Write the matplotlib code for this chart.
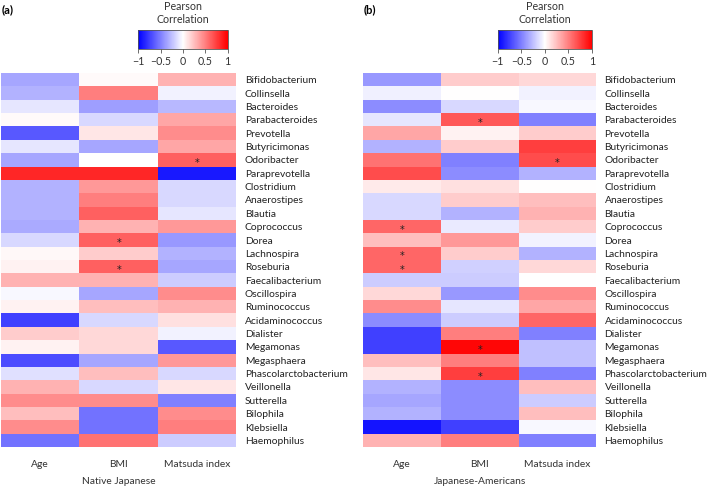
import numpy as np
import matplotlib
matplotlib.use('Agg')
import matplotlib.pyplot as plt

plt.rcParams['font.family'] = ['Lato', 'DejaVu Sans']

genera = ['Bifidobacterium', 'Collinsella', 'Bacteroides', 'Parabacteroides',
          'Prevotella', 'Butyricimonas', 'Odoribacter', 'Paraprevotella',
          'Clostridium', 'Anaerostipes', 'Blautia', 'Coprococcus', 'Dorea',
          'Lachnospira', 'Roseburia', 'Faecalibacterium', 'Oscillospira',
          'Ruminococcus', 'Acidaminococcus', 'Dialister', 'Megamonas',
          'Megasphaera', 'Phascolarctobacterium', 'Veillonella', 'Sutterella',
          'Bilophila', 'Klebsiella', 'Haemophilus']
variables = ['Age', 'BMI', 'Matsuda index']

# (a) Native Japanese
nj_age = [-0.35, -0.3, -0.1, 0.02, -0.65, -0.1, -0.35, 0.85, -0.3, -0.3, -0.3, -0.33,
          -0.15, 0.03, 0.05, 0.3, -0.03, 0.05, -0.75, 0.2, 0.05, -0.7, -0.12, 0.3,
          0.45, 0.25, 0.45, -0.55]
nj_bmi = [0.02, 0.5, -0.38, -0.15, 0.1, -0.35, 0.0, 0.85, 0.4, 0.5, 0.62, 0.3,
          0.62, 0.2, 0.62, 0.3, -0.35, 0.25, -0.15, 0.15, 0.15, -0.35, 0.25, -0.15,
          0.45, -0.55, -0.55, 0.55]
nj_matsuda = [0.3, -0.05, -0.28, 0.35, 0.45, 0.35, 0.62, -0.9, -0.15, -0.15, -0.1, 0.4,
              -0.4, -0.3, -0.35, -0.2, 0.45, 0.3, 0.12, -0.05, -0.65, 0.4, -0.15, 0.1,
              -0.5, 0.45, 0.5, -0.2]
nj_sig = [(6, 2), (12, 1), (14, 1)]

# (b) Japanese-Americans
ja_age = [-0.4, -0.06, -0.45, -0.1, 0.35, -0.3, 0.55, 0.7, 0.08, -0.15, -0.15, 0.6,
          0.25, 0.6, 0.6, -0.2, 0.15, 0.45, -0.45, -0.75, -0.75, 0.25, 0.1, -0.3,
          -0.35, -0.3, -0.92, 0.3]
ja_bmi = [0.2, 0.0, -0.15, 0.65, 0.05, 0.2, -0.5, -0.45, 0.12, 0.2, -0.3, -0.08,
          0.4, 0.2, -0.18, -0.2, -0.4, -0.1, -0.2, 0.5, 0.97, 0.5, 0.75, -0.45,
          -0.45, -0.45, -0.75, 0.5]
ja_matsuda = [0.15, -0.05, -0.03, -0.5, 0.2, 0.75, 0.7, -0.3, 0.0, 0.25, 0.3, 0.2,
              -0.05, -0.3, 0.15, 0.0, 0.45, 0.35, 0.6, -0.5, -0.25, -0.25, -0.5, 0.25,
              -0.2, 0.25, -0.03, -0.5]
ja_sig = [(3, 1), (6, 2), (11, 0), (13, 0), (14, 0), (20, 1), (22, 1)]

fig = plt.figure(figsize=(7.09, 4.87), dpi=100)
cmap = plt.get_cmap('bwr')
fs = 7.4

panels = [
    ('(a)', 'Native Japanese', [nj_age, nj_bmi, nj_matsuda], nj_sig,
     [0.0014, 0.082, 0.332, 0.768], [0.195, 0.899, 0.126, 0.039]),
    ('(b)', 'Japanese-Americans', [ja_age, ja_bmi, ja_matsuda], ja_sig,
     [0.512, 0.082, 0.329, 0.768], [0.702, 0.899, 0.133, 0.039]),
]

for tag, group, cols, sig, hm_pos, cb_pos in panels:
    data = np.array(cols).T
    ax = fig.add_axes(hm_pos)
    mesh = ax.pcolormesh(data, cmap=cmap, vmin=-1, vmax=1)
    ax.set_xlim(0, 3)
    ax.set_ylim(len(genera), 0)
    ax.set_xticks(np.arange(3) + 0.5)
    ax.set_xticklabels(variables, fontsize=fs, color='#333333')
    ax.set_yticks(np.arange(len(genera)) + 0.5)
    ax.set_yticklabels(genera, fontsize=fs, color='#222222')
    ax.yaxis.tick_right()
    ax.tick_params(length=0, pad=6)
    ax.tick_params(axis='x', pad=9)
    for s in ax.spines.values():
        s.set_visible(False)
    ax.set_xlabel(group, fontsize=fs, color='#333333', labelpad=6)
    # significance marks
    for r, c in sig:
        ax.text(c + 0.5, r + 0.72, '*', ha='center', va='center', fontsize=7,
                family='DejaVu Sans', color='#222222')

    cax = fig.add_axes(cb_pos)
    cb = fig.colorbar(mesh, cax=cax, orientation='horizontal', ticks=[-1, -0.5, 0, 0.5, 1])
    cb.ax.set_xticklabels(['\u22121', '\u22120.5', '0', '0.5', '1'])
    cb.ax.tick_params(labelsize=fs + 0.3, length=3, width=0.6, color='#555555', labelcolor='#333333', pad=2)
    cb.outline.set_linewidth(0.6)
    cb.outline.set_edgecolor('#555555')
    cb.ax.set_title('Pearson\nCorrelation', fontsize=fs + 0.3, color='#333333', pad=5, linespacing=1.3)

    fig.text(hm_pos[0] + 0.001, 0.98, tag, fontsize=8, fontweight='bold', va='center')

fig.savefig('out.png', dpi=100)
